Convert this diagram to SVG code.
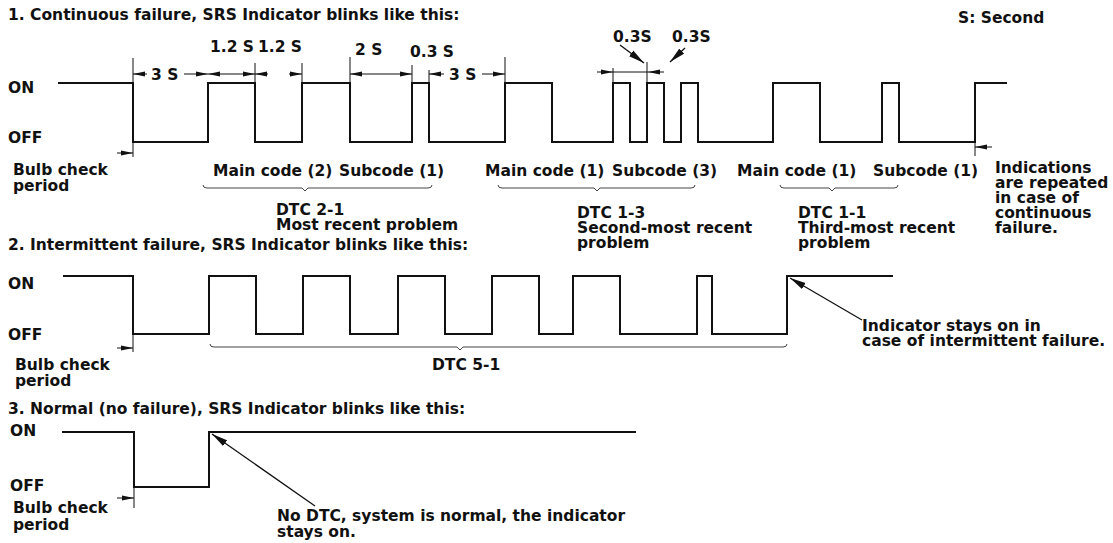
<svg xmlns="http://www.w3.org/2000/svg" width="1113" height="543" viewBox="0 0 1113 543">
<style>
text{font-family:"DejaVu Sans","Liberation Sans",sans-serif;font-weight:bold;font-size:15.5px;fill:#111}
.w{fill:none;stroke:#111;stroke-width:2}
.t{fill:none;stroke:#111;stroke-width:1}
.d{fill:none;stroke:#111;stroke-width:1;marker-end:url(#ah)}
.dd{fill:none;stroke:#111;stroke-width:1;marker-start:url(#ah);marker-end:url(#ah)}
.br{fill:none;stroke:#444;stroke-width:1}
.ld{fill:none;stroke:#111;stroke-width:1.3;marker-end:url(#big)}
</style>
<defs>
<marker id="ah" viewBox="0 0 12 6" refX="12" refY="3" markerWidth="12" markerHeight="6" markerUnits="userSpaceOnUse" orient="auto-start-reverse"><path d="M0,0.6 L12,3 L0,5.4 z" fill="#111"/></marker>
<marker id="big" viewBox="0 0 16 8" refX="16" refY="4" markerWidth="16" markerHeight="8" markerUnits="userSpaceOnUse" orient="auto"><path d="M0,0.5 L16,4 L0,7.5 z" fill="#111"/></marker>
</defs>
<rect width="1113" height="543" fill="#fff"/>

<g id="section1">
<text x="8" y="20">1. Continuous failure, SRS Indicator blinks like this:</text>
<text x="958" y="23">S: Second</text>
<text x="8" y="93">ON</text>
<text x="8" y="143">OFF</text>
<text x="13" y="175">Bulb check</text>
<text x="13" y="191">period</text>
<path class="w" d="M58,83 H133 V142 H208 V83 H255 V142 H302 V83 H350 V142 H412 V83 H429 V142 H505 V83 H552 V142 H613 V83 H630 V142 H647 V83 H664 V142 H681 V83 H698 V142 H773 V83 H820 V142 H882 V83 H899 V142 H975 V83 H1007"/>
<g id="extension-lines1">
<path class="t" d="M133,58 V157 M255,63 V83 M302,63 V83 M350,57 V83 M412,65 V83 M429,70 V83 M505,57 V83 M613,68 V83 M647,62 V83 M975,142 V156"/>
</g>
<g id="dimensions1">
<text x="210" y="52">1.2 S</text>
<text x="258" y="52">1.2 S</text>
<text x="355" y="55">2 S</text>
<text x="410" y="57">0.3 S</text>
<text x="151" y="80">3 S</text>
<text x="449" y="80">3 S</text>
<text x="613" y="42">0.3S</text>
<text x="672" y="42">0.3S</text>
<line class="d" x1="147" y1="74" x2="133" y2="74"/>
<line class="d" x1="184" y1="74" x2="208" y2="74"/>
<line class="dd" x1="208" y1="74" x2="255" y2="74"/>
<line class="d" x1="268" y1="74" x2="255" y2="74"/>
<line class="d" x1="289" y1="74" x2="302" y2="74"/>
<line class="dd" x1="350" y1="74" x2="412" y2="74"/>
<line class="d" x1="444" y1="74" x2="429" y2="74"/>
<line class="d" x1="482" y1="74" x2="505" y2="74"/>
<line class="d" x1="597" y1="72" x2="613" y2="72"/>
<line class="t" x1="613" y1="72" x2="648" y2="72"/>
<line class="d" x1="664" y1="72" x2="648" y2="72"/>
<line class="ld" x1="620" y1="45" x2="644" y2="63"/>
<line class="ld" x1="685" y1="48" x2="670" y2="62"/>
<line class="d" x1="117" y1="153" x2="133" y2="153"/>
<line class="d" x1="992" y1="147" x2="975" y2="147"/>
</g>
<g id="codes1">
<text x="213" y="176">Main code (2)</text>
<text x="339" y="176">Subcode (1)</text>
<text x="485" y="176">Main code (1)</text>
<text x="612" y="176">Subcode (3)</text>
<text x="737" y="176">Main code (1)</text>
<text x="873" y="176">Subcode (1)</text>
<path class="br" d="M203,185 Q203,188 207,188 H302 L305,191 L308,188 H428 Q432,188 432,185"/>
<path class="br" d="M498,185 Q498,188 502,188 H594 L597,191 L600,188 H691 Q695,188 695,185"/>
<path class="br" d="M780,185 Q780,188 784,188 H829 L832,191 L835,188 H894 Q898,188 898,185"/>
<text x="276" y="215">DTC 2-1</text>
<text x="276" y="230">Most recent problem</text>
<text x="577" y="218">DTC 1-3</text>
<text x="577" y="233">Second-most recent</text>
<text x="577" y="248">problem</text>
<text x="798" y="218">DTC 1-1</text>
<text x="798" y="233">Third-most recent</text>
<text x="798" y="248">problem</text>
<text x="995" y="173">Indications</text>
<text x="995" y="188">are repeated</text>
<text x="995" y="203">in case of</text>
<text x="995" y="218">continuous</text>
<text x="995" y="233">failure.</text>
</g>
</g>

<g id="section2">
<text x="8" y="250">2. Intermittent failure, SRS Indicator blinks like this:</text>
<text x="8" y="289">ON</text>
<text x="8" y="340">OFF</text>
<text x="15" y="370">Bulb check</text>
<text x="15" y="386">period</text>
<path class="w" d="M63,276 H133 V334 H209 V276 H256 V334 H303 V276 H350 V334 H398 V276 H445 V334 H492 V276 H539 V334 H573 V276 H620 V334 H697 V276 H712 V334 H787 V276 H893"/>
<path class="t" d="M133,334 V352"/>
<line class="d" x1="117" y1="348" x2="133" y2="348"/>
<path class="br" d="M210,344 Q210,347 214,347 H457 L460,350 L463,347 H783 Q787,347 787,344"/>
<text x="432" y="370">DTC 5-1</text>
<line class="ld" x1="862" y1="320" x2="790" y2="278"/>
<text x="862" y="331">Indicator stays on in</text>
<text x="862" y="346">case of intermittent failure.</text>
</g>

<g id="section3">
<text x="8" y="414">3. Normal (no failure), SRS Indicator blinks like this:</text>
<text x="10" y="436">ON</text>
<text x="10" y="491">OFF</text>
<text x="13" y="513">Bulb check</text>
<text x="13" y="530">period</text>
<path class="w" d="M62,432 H134 V487 H209 V432 H636"/>
<path class="t" d="M134,487 V508"/>
<line class="d" x1="117" y1="498" x2="134" y2="498"/>
<line class="ld" x1="315" y1="506" x2="212" y2="434"/>
<text x="277" y="521">No DTC, system is normal, the indicator</text>
<text x="277" y="537">stays on.</text>
</g>
</svg>
